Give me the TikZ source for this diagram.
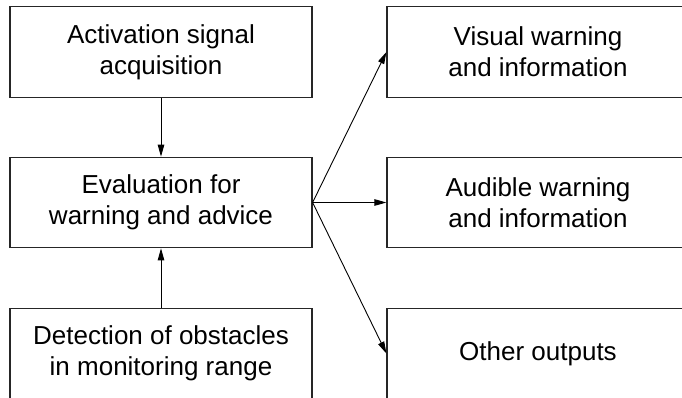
\documentclass[tikz,border=0pt]{standalone}
\usepackage{fontspec}
\setmainfont{Liberation Sans}
\usetikzlibrary{arrows.meta}
\begin{document}
\begin{tikzpicture}[x=1pt,y=-1pt,
  box/.style={draw=black!85,line width=1.2pt,rectangle,minimum width=302pt,minimum height=90.5pt,
    inner sep=0pt,align=center,font=\fontsize{26}{31}\selectfont},
  conn/.style={line width=0.9pt,-{Triangle[length=12pt,width=6.5pt]}}]
\useasboundingbox (0,0) rectangle (682,398);
\clip (0,0) rectangle (682,398);
\node[box] (act) at (161,52) {Activation signal\\acquisition};
\node[box] (eval) at (161,202.5) {Evaluation for\\warning and advice};
\node[box] (det) at (161,353.5) {Detection of obstacles\\in monitoring range};
\node[box] (vis) at (538,52) {Visual warning\\and information};
\node[box] (aud) at (538,202.5) {Audible warning\\and information};
\node[box] (oth) at (538,353.5) {Other outputs};
\draw[conn] (act.south) -- (eval.north);
\draw[conn] (det.north) -- (eval.south);
\draw[conn] (eval.east) -- (vis.west);
\draw[conn] (eval.east) -- (aud.west);
\draw[conn] (eval.east) -- (oth.west);
\end{tikzpicture}
\end{document}
